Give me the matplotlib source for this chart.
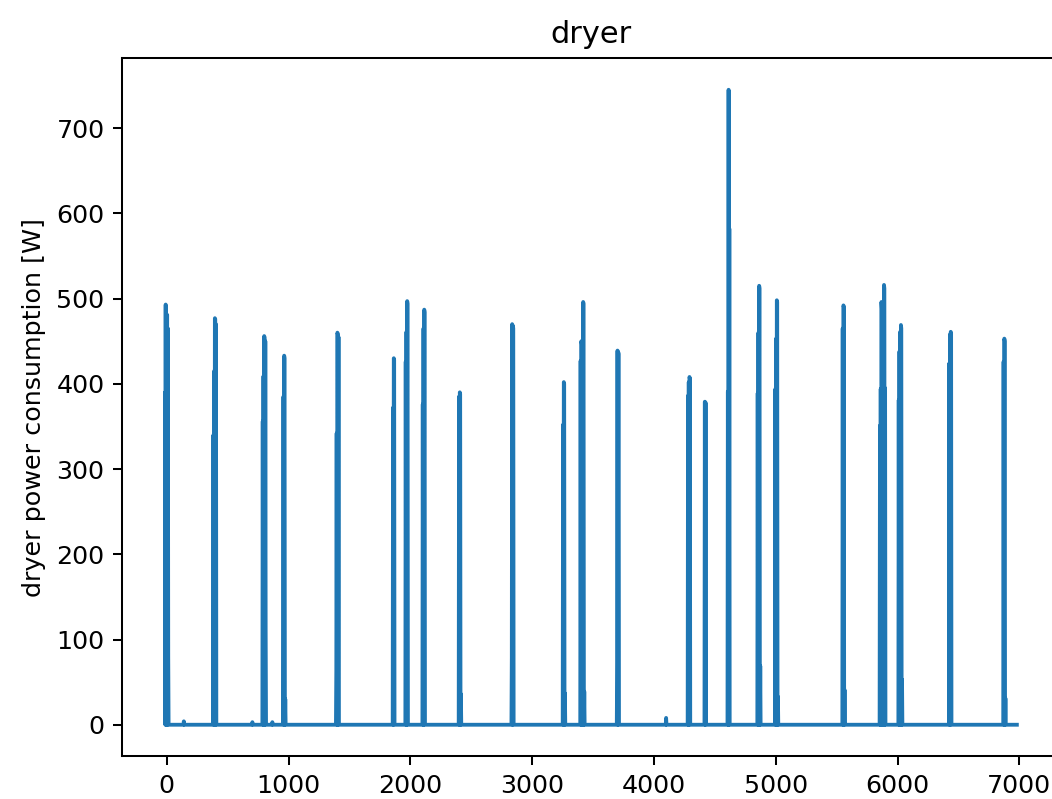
import numpy as np
import matplotlib
matplotlib.use("Agg")
import matplotlib.pyplot as plt

# dryer runs: first sample index of each run and the readings [W] during it
run_start = [-15, 140, 383, 703, 788, 867, 958, 1392, 1858, 1962, 2102, 2400,
             2833, 3254, 3398, 3698, 4100, 4280, 4418, 4607, 4852, 4997,
             5550, 5856, 6010, 6425, 6871]
run_power = [
    [389, 0, 493, 0, 432, 0, 481, 0, 465, 80],
    [4],
    [340, 0, 415, 0, 477, 476, 0, 470],
    [3],
    [356, 0, 409, 0, 456, 454, 0, 450, 112],
    [3],
    [385, 0, 433, 430, 0, 30],
    [63, 342, 0, 460, 458, 0, 455],
    [372, 0, 430, 428, 0],
    [426, 0, 461, 0, 497, 494, 0],
    [376, 0, 465, 0, 487, 484, 0],
    [385, 0, 390, 388, 0, 36],
    [78, 470, 0, 468, 465, 0],
    [352, 0, 402, 400, 0, 37],
    [427, 0, 450, 446, 0, 440, 0, 496, 494, 0, 39],
    [73, 439, 0, 437, 435, 0],
    [8],
    [386, 0, 402, 0, 408, 406, 0],
    [379, 0, 378, 0],
    [391, 0, 745, 0, 582, 0],
    [389, 0, 460, 0, 515, 512, 0, 69],
    [394, 0, 453, 0, 498, 496, 0, 33],
    [465, 0, 492, 490, 0, 41],
    [351, 0, 394, 0, 496, 488, 0, 470, 0, 495, 0, 516, 512, 0, 395],
    [381, 0, 438, 0, 461, 0, 469, 465, 0, 53],
    [424, 0, 458, 0, 461, 459, 0],
    [426, 0, 453, 450, 0, 31],
]
sample_step = 3
last_index = 6980

# idle (0 W) between runs
t = []
p = []
for start, vals in zip(run_start, run_power):
    if start > -15:
        t.append(start - sample_step)
        p.append(0)
    for k, v in enumerate(vals):
        t.append(start + k * sample_step)
        p.append(v)
    t.append(start + len(vals) * sample_step)
    p.append(0)
t.append(last_index)
p.append(0)
t = np.array(t)
p = np.array(p)

dpi = 183
fig = plt.figure(figsize=(1052 / dpi, 799 / dpi), dpi=dpi)
ax = fig.add_axes([0.1163, 0.0532, 0.8908, 0.8742])
ax.plot(t, p)
ax.set_title("dryer")
ax.set_ylabel("dryer power consumption [W]")

fig.savefig("out.png", dpi=dpi)
